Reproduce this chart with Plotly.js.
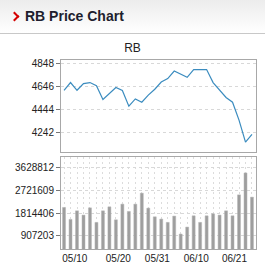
<!DOCTYPE html>
<html>
<head>
<meta charset="utf-8">
<script src="https://cdn.plot.ly/plotly-3.0.1.min.js"></script>
<style>
html,body{margin:0;padding:0;background:#fff;}
#wrap{position:relative;width:265px;height:279px;overflow:hidden;}
#hdr{position:absolute;left:0;top:0;width:265px;height:34px;background:linear-gradient(#ececec,#ffffff);border-bottom:1px solid #c8c8c8;z-index:2;box-sizing:border-box;}
#hdr .chev{position:absolute;left:11px;top:13px;width:5px;height:5px;border-top:2.5px solid #d40000;border-right:2.5px solid #d40000;transform:rotate(45deg);}
#hdr .txt{position:absolute;left:25px;top:8px;font-family:"Liberation Sans",Arial,sans-serif;font-weight:bold;font-size:14px;color:#1e1e2e;}
#chart{position:absolute;left:0;top:0;width:265px;height:279px;}
</style>
</head>
<body>
<div id="wrap">
<div id="chart"></div>
<div id="hdr"><span class="chev"></span><span class="txt">RB Price Chart</span></div>
</div>
<script>
// Data (30 sessions)
var priceValues = [4612, 4680, 4612, 4671, 4680, 4652, 4532, 4584, 4636, 4611,
                   4472, 4536, 4507, 4569, 4621, 4685, 4715, 4781, 4750, 4726,
                   4794, 4794, 4794, 4680, 4612, 4549, 4507, 4350, 4157, 4225];
var volumeValues = [2037000, 1560000, 1902000, 1731000, 2021000, 1440000, 1902000, 2061000, 1544000, 2168000,
                    1878000, 2168000, 2606000, 2009000, 1663000, 1572000, 1440000, 1691000, 975000, 1253000,
                    1703000, 1440000, 1703000, 1783000, 1731000, 1902000, 1703000, 2539000, 3414000, 2447000];
var dateLabels = ["05/10", "05/20", "05/31", "06/10", "06/21"];
var priceTicks = [4242, 4444, 4646, 4848];
var volumeTicks = [907203, 1814406, 2721609, 3628812];

var idx = priceValues.map(function(_, i){ return i; });
var fnt = {family:'"Liberation Sans", Arial, sans-serif', size:10, color:'#222'};

var traces = [
  {x: idx, y: priceValues, type:'scatter', mode:'lines', xaxis:'x', yaxis:'y',
   line:{color:'#3b8cbf', width:1.2}, hoverinfo:'skip'},
  {x: idx, y: volumeValues, type:'bar', xaxis:'x2', yaxis:'y2',
   marker:{color:'#9e9e9e', line:{color:'#b4b4b4', width:0.5}}, width:0.46, hoverinfo:'skip'}
];

var xr = [-0.47, 29.62];
var layout = {
  width:265, height:279,
  margin:{l:61, r:9, t:60, b:30},
  paper_bgcolor:'#fff', plot_bgcolor:'#fff',
  showlegend:false,
  title:{text:'RB', font:{family:'"Liberation Sans", Arial, sans-serif', size:12, color:'#222'},
         x:0.5, xanchor:'center', xref:'container', y:1-47.5/279, yanchor:'middle', yref:'container'},
  xaxis:{domain:[0,1], range:xr, showticklabels:false, ticks:'', showgrid:false, zeroline:false,
         showline:true, mirror:true, linecolor:'#a8a8a8', linewidth:1, anchor:'y'},
  yaxis:{domain:[97/189, 1], range:[4070, 4878], tickmode:'array', tickvals:priceTicks,
         ticktext:priceTicks.map(String), ticks:'outside', ticklen:4, tickcolor:'#777',
         showgrid:true, gridcolor:'#d8d8d8', griddash:'3px,3px', gridwidth:1, zeroline:false,
         showline:true, mirror:true, linecolor:'#a8a8a8', linewidth:1, tickfont:fnt, anchor:'x'},
  xaxis2:{domain:[0,1], range:xr, tickmode:'array', tickvals:[1.66, 8.37, 14.4, 20.4, 26.3],
          ticktext:dateLabels, ticks:'', showgrid:false, zeroline:false, tickfont:fnt,
          showline:true, mirror:true, linecolor:'#a8a8a8', linewidth:1, anchor:'y2',
          minor:{tickmode:'linear', tick0:0, dtick:1, showgrid:true, gridcolor:'#dcdcdc', griddash:'2px,3px', gridwidth:1, ticks:''}},
  yaxis2:{domain:[0, 92/189], range:[378000, 4050000], tickmode:'array', tickvals:volumeTicks,
          ticktext:volumeTicks.map(String), ticks:'outside', ticklen:4, tickcolor:'#777',
          showgrid:true, gridcolor:'#d8d8d8', griddash:'3px,3px', gridwidth:1, zeroline:false,
          showline:true, mirror:true, linecolor:'#a8a8a8', linewidth:1, tickfont:fnt, anchor:'x2'}
};
Plotly.newPlot('chart', traces, layout, {staticPlot:true, displayModeBar:false});
</script>
</body>
</html>
